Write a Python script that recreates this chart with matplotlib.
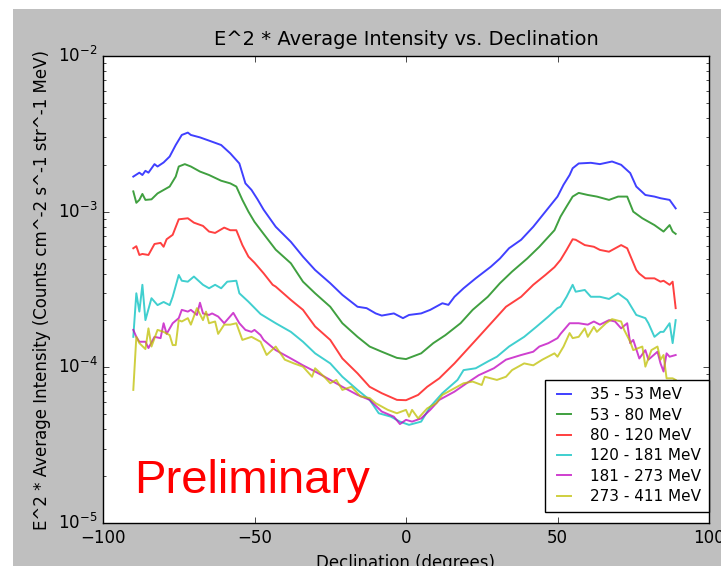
import numpy as np
import matplotlib
matplotlib.use("Agg")
import matplotlib.pyplot as plt
from matplotlib.patches import Rectangle

# values, intensity in units of 1e-4
dec_35 = [-90, -88, -87, -86, -85, -83, -82, -80, -78, -76, -74, -72, -71, -68, -65,
          -61, -58, -55, -53, -51, -49, -47, -43, -38, -34, -30, -25, -21, -16, -13,
          -10, -8, -4, -1, 1, 5, 8, 12, 14, 16, 19, 23, 28, 31, 34,
          38, 42, 46, 50, 52, 54, 55, 57, 61, 64, 68, 71, 74, 76, 79,
          82, 84, 87, 89]
int_35 = [16.8, 17.8, 17.2, 18.3, 17.8, 20.2, 19.5, 20.7, 22.6, 26.8, 31.1, 32.2, 31.1, 30.0, 28.6,
          26.8, 23.7, 20.4, 15.2, 13.8, 12.0, 10.3, 8.0, 6.4, 5.14, 4.22, 3.47, 2.92, 2.45, 2.4,
          2.22, 2.15, 2.22, 2.07, 2.17, 2.22, 2.34, 2.58, 2.52, 2.84, 3.22, 3.73, 4.43, 5.0, 5.82,
          6.6, 8.0, 10.0, 12.5, 14.9, 17.2, 19.0, 20.4, 20.6, 20.2, 21.0, 20.0, 17.7, 14.5, 12.8,
          12.5, 12.2, 11.9, 10.5]

dec_53 = [-90, -89, -88, -87, -86, -84, -82, -78, -76, -75, -73, -71, -68, -65, -61,
          -58, -56, -54, -52, -50, -47, -43, -38, -34, -30, -25, -21, -16, -12, -8,
          -3, 0, 5, 9, 13, 18, 22, 27, 31, 35, 40, 44, 49, 51, 53,
          55, 57, 60, 63, 67, 70, 73, 75, 78, 82, 85, 87, 88, 89]
int_53 = [13.5, 11.4, 11.9, 13.0, 11.9, 12.0, 13.1, 14.5, 16.8, 19.5, 20.2, 19.5, 18.1, 17.2, 15.8,
          15.2, 14.5, 11.9, 10.0, 8.6, 7.2, 5.7, 4.66, 3.55, 2.99, 2.45, 1.92, 1.57, 1.36, 1.26,
          1.15, 1.13, 1.23, 1.43, 1.61, 1.92, 2.34, 2.84, 3.47, 4.12, 5.0, 5.95, 7.6, 9.3, 10.8,
          12.5, 13.2, 12.8, 12.5, 11.9, 12.5, 12.5, 10.0, 9.07, 8.2, 7.45, 8.2, 7.45, 7.2]

dec_80 = [-90, -89, -88, -87, -85, -83, -81, -80, -79, -77, -75, -72, -70, -67, -65,
          -63, -60, -58, -56, -54, -52, -50, -47, -44, -43, -38, -34, -30, -25, -21,
          -16, -12, -8, -3, 0, 4, 7, 11, 16, 20, 24, 29, 33, 38, 42,
          46, 49, 51, 53, 55, 56, 59, 62, 64, 67, 71, 73, 76, 77, 79,
          82, 84, 85, 87, 88, 89]
int_80 = [5.82, 6.0, 5.27, 5.35, 5.27, 6.2, 6.3, 5.95, 6.65, 7.1, 8.93, 9.07, 8.5, 8.1, 7.45,
          7.3, 7.9, 7.6, 7.6, 6.1, 5.14, 4.7, 4.02, 3.39, 3.3, 2.71, 2.34, 1.83, 1.5, 1.14,
          0.915, 0.75, 0.682, 0.618, 0.615, 0.665, 0.75, 0.85, 1.06, 1.29, 1.57, 2.01, 2.45, 2.84, 3.39,
          3.92, 4.4, 4.9, 5.68, 6.65, 6.6, 6.1, 5.95, 5.68, 5.53, 6.1, 5.82, 4.22, 4.0, 3.73,
          3.73, 3.55, 3.6, 3.39, 3.55, 2.4]

dec_120 = [-90, -89, -88, -87, -86, -84, -82, -80, -78, -77, -75, -74, -72, -70, -67,
           -65, -63, -61, -59, -56, -55, -52, -48, -43, -38, -34, -30, -25, -21, -16,
           -12, -9, -5, -2, 1, 5, 8, 12, 17, 19, 23, 27, 30, 34, 39,
           43, 47, 50, 51, 53, 55, 56, 59, 61, 64, 67, 70, 73, 76, 79,
           80, 82, 84, 85, 87, 88, 89]
int_120 = [1.57, 2.99, 2.28, 3.39, 2.01, 2.78, 2.51, 2.63, 2.51, 2.84, 3.92, 3.6, 3.55, 3.83, 3.39,
           3.22, 3.39, 3.22, 3.55, 3.6, 2.99, 2.64, 2.2, 1.92, 1.69, 1.46, 1.23, 1.06, 0.87, 0.716,
           0.618, 0.507, 0.482, 0.448, 0.427, 0.448, 0.558, 0.682, 0.83, 0.96, 0.986, 1.09, 1.17, 1.36, 1.57,
           1.82, 2.12, 2.4, 2.45, 2.84, 3.39, 3.06, 3.14, 2.84, 2.84, 2.75, 2.99, 2.71, 2.17, 2.07,
           1.92, 1.57, 1.69, 1.69, 1.92, 1.43, 2.01]

dec_181 = [-90, -89, -88, -86, -85, -83, -81, -80, -79, -77, -75, -74, -72, -71, -69,
           -68, -67, -65, -64, -62, -60, -57, -55, -53, -51, -50, -48, -47, -43, -38,
           -34, -30, -25, -21, -16, -12, -8, -4, -2, 0, 2, 5, 8, 11, 16,
           20, 24, 29, 33, 38, 42, 44, 47, 50, 51, 54, 57, 60, 62, 64,
           67, 69, 71, 73, 74, 75, 77, 79, 80, 83, 84, 85, 86, 87, 89]
int_181 = [1.74, 1.57, 1.46, 1.46, 1.33, 1.57, 1.54, 1.92, 1.64, 1.92, 2.07, 2.34, 2.28, 2.34, 2.17,
           2.6, 2.22, 2.17, 2.22, 2.12, 1.92, 2.24, 1.92, 1.74, 1.69, 1.74, 1.61, 1.5, 1.29, 1.14,
           1.03, 0.94, 0.83, 0.75, 0.665, 0.618, 0.52, 0.482, 0.432, 0.46, 0.448, 0.47, 0.533, 0.618, 0.698,
           0.79, 0.89, 0.986, 1.12, 1.2, 1.26, 1.36, 1.43, 1.54, 1.64, 1.92, 1.92, 1.88, 1.97, 1.88,
           2.01, 1.97, 1.78, 1.92, 1.43, 1.5, 1.14, 1.29, 1.12, 1.26, 1.06, 0.94, 1.23, 1.17, 1.2]

dec_273 = [-90, -89, -88, -86, -85, -84, -82, -80, -78, -77, -76, -75, -74, -72, -71,
           -69, -67, -66, -65, -63, -62, -60, -58, -56, -54, -51, -48, -46, -43, -40,
           -37, -34, -31, -30, -27, -25, -23, -21, -18, -15, -12, -10, -6, -3, 0,
           1, 2, 4, 7, 10, 12, 16, 19, 22, 25, 26, 30, 33, 35, 39,
           42, 45, 49, 50, 52, 54, 55, 57, 59, 60, 62, 63, 66, 68, 71,
           72, 74, 75, 78, 79, 81, 83, 84, 85, 86, 88, 89]
int_273 = [0.716, 1.57, 1.43, 1.31, 1.78, 1.36, 1.74, 1.69, 1.61, 1.39, 1.39, 2.01, 1.97, 2.07, 1.88,
           2.4, 2.01, 2.28, 1.92, 1.97, 1.64, 1.88, 1.88, 1.92, 1.5, 1.57, 1.46, 1.2, 1.36, 1.12,
           1.06, 1.01, 0.87, 0.986, 0.87, 0.79, 0.83, 0.716, 0.75, 0.65, 0.635, 0.588, 0.533, 0.507, 0.533,
           0.482, 0.533, 0.47, 0.545, 0.588, 0.665, 0.734, 0.79, 0.81, 0.77, 0.87, 0.83, 0.87, 0.96, 1.06,
           1.03, 1.12, 1.23, 1.17, 1.36, 1.66, 1.54, 1.57, 1.78, 1.57, 1.82, 1.69, 1.92, 2.04, 1.97,
           1.74, 1.46, 1.29, 1.36, 1.01, 1.29, 1.36, 1.12, 1.2, 0.85, 0.85, 0.83]

labels = ["35 - 53 MeV", "53 - 80 MeV", "80 - 120 MeV",
          "120 - 181 MeV", "181 - 273 MeV", "273 - 411 MeV"]
series = [(dec_35, int_35), (dec_53, int_53), (dec_80, int_80),
          (dec_120, int_120), (dec_181, int_181), (dec_273, int_273)]
colors = ["b", "g", "r", "c", "m", "y"]

plt.style.use("classic")
plt.rcParams["mathtext.fontset"] = "dejavusans"
plt.rcParams["font.family"] = "DejaVu Sans"

fig = plt.figure(figsize=(7.21, 5.66), dpi=100)
fig.patch.set_facecolor("white")
# grey window background, screenshot has a white strip on top and left
fig.patches.append(Rectangle((13 / 721, 0), 1, 1 - 9 / 566, transform=fig.transFigure,
                             facecolor="#bfbfbf", edgecolor="none", zorder=-10))

ax = fig.add_axes([103 / 721, 1 - 523 / 566, 606 / 721, 467 / 566])
for (x, y), lab, c in zip(series, labels, colors):
    ax.plot(x, np.array(y) * 1e-4, color=c, alpha=0.75, lw=1.4, label=lab)

ax.set_yscale("log")
ax.set_xlim(-100, 100)
ax.set_ylim(1e-5, 1e-2)
ax.set_xticks([-100, -50, 0, 50, 100])
ax.set_title("E^2 * Average Intensity vs. Declination", fontsize=14, pad=8)
ax.set_xlabel("Declination (degrees)", fontsize=12)
ax.set_ylabel("E^2 * Average Intensity (Counts cm^-2 s^-1 str^-1 MeV)", fontsize=12)

ax.legend(loc="lower right", bbox_to_anchor=(1.0, 0.024), borderaxespad=0.0,
          fontsize=11, handlelength=1.5, handletextpad=1.0, labelspacing=0.35,
          borderpad=0.5, numpoints=2, frameon=True, fancybox=False)

ax.text(0.052, 0.064, "Preliminary", transform=ax.transAxes, color="red",
        fontsize=34, family="Liberation Sans", va="baseline")

fig.savefig("out.png", dpi=100)
